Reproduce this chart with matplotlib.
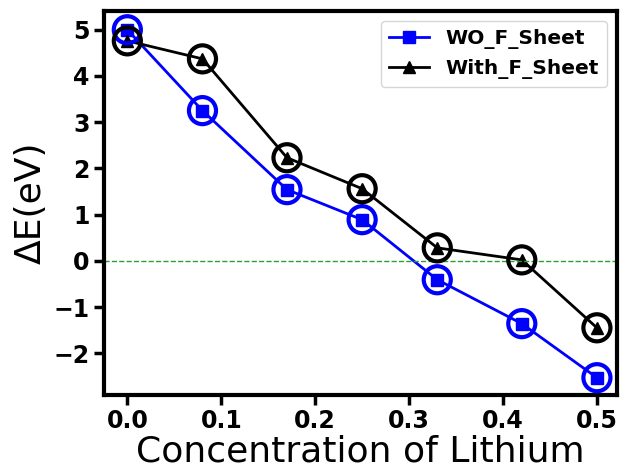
import matplotlib
matplotlib.use("Agg")
import matplotlib.pyplot as plt

conc = [0.0, 0.08, 0.17, 0.25, 0.33, 0.42, 0.5]
wo_f_sheet = [5.0, 3.25, 1.54, 0.89, -0.41, -1.36, -2.53]
with_f_sheet = [4.76, 4.37, 2.23, 1.56, 0.28, 0.02, -1.45]

fig, ax = plt.subplots(figsize=(6.21, 4.70), dpi=100)
fig.subplots_adjust(left=0.168, right=0.993, top=0.977, bottom=0.16)

ax.plot(conc, wo_f_sheet, color="blue", marker="s", markersize=8, lw=2, label="WO_F_Sheet")
ax.scatter(conc, wo_f_sheet, s=380, facecolors="none", edgecolors="blue", linewidths=3, zorder=3)
ax.plot(conc, with_f_sheet, color="black", marker="^", markersize=8, lw=2, label="With_F_Sheet")
ax.scatter(conc, with_f_sheet, s=380, facecolors="none", edgecolors="black", linewidths=3, zorder=3)
ax.axhline(0, color="tab:green", ls="--", lw=1)

ax.set_xlim(-0.0245, 0.521)
ax.set_ylim(-2.9, 5.41)
ax.set_xticks([0.0, 0.1, 0.2, 0.3, 0.4, 0.5])
ax.set_yticks(range(-2, 6))
ax.set_yticklabels([f"{v}".replace("-", "\u2212") for v in range(-2, 6)])
for lab in ax.get_xticklabels() + ax.get_yticklabels():
    lab.set_fontweight("bold")
    lab.set_fontsize(17)
ax.tick_params(width=2.5, length=7)
for sp in ax.spines.values():
    sp.set_linewidth(3)

ax.set_xlabel("Concentration of Lithium", fontsize=26, labelpad=1)
ax.set_ylabel("\u0394E(eV)", fontsize=26)
ax.legend(loc="upper right", prop={"weight": "bold", "size": 14.5})

fig.savefig("out.png", dpi=100)
